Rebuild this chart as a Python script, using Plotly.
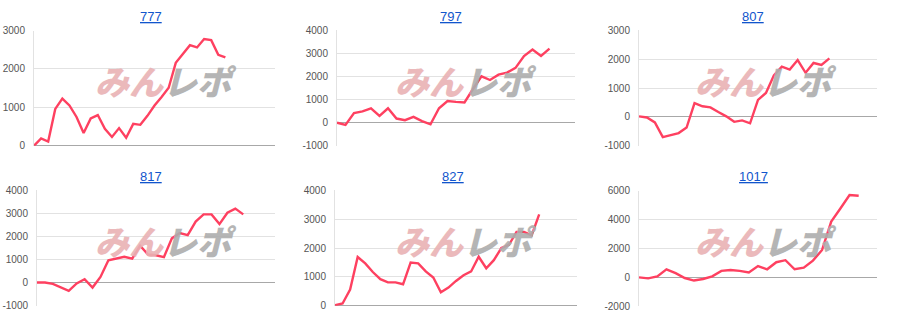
import plotly.graph_objects as go

titles = ["777", "797", "807", "817", "827", "1017"]

v777 = [0, 190, 110, 960, 1230, 1050, 750, 330, 710, 800, 440, 230, 460, 210,
        570, 545, 780, 1050, 1270, 1510, 2160, 2390, 2620, 2560, 2780, 2750, 2370, 2300]
v797 = [0, -100, 420, 490, 625, 290, 625, 180, 110, 250, 70, -70, 625, 940,
        900, 875, 1460, 2010, 1850, 2080, 2170, 2375, 2890, 3170, 2890, 3210]
v807 = [20, -20, -190, -700, -630, -560, -370, 480, 370, 330, 170, 20, -170,
        -120, -220, 590, 830, 1440, 1740, 1640, 1970, 1530, 1870, 1800, 2030]
v817 = [10, 10, -50, -190, -350, -30, 150, -210, 250, 970, 1040, 1125, 1040,
        1600, 1220, 1190, 1110, 1920, 2150, 2060, 2650, 2960, 2960, 2540, 3030, 3210, 2960]
v827 = [20, 80, 560, 1690, 1470, 1170, 920, 810, 810, 745, 1500, 1470, 1190,
        980, 470, 630, 860, 1060, 1190, 1700, 1300, 1580, 2000, 2110, 2560, 2560, 2440, 3170]
v1017 = [0, -70, 70, 560, 290, -45, -220, -110, 70, 450, 510, 450, 335, 780,
         560, 1050, 1190, 560, 670, 1160, 1900, 3870, 4770, 5710, 5660]

series = [v777, v797, v807, v817, v827, v1017]
x_slots = [34, 28, 30, 30, 32, 26]
y_ranges = [(0, 3000), (-1000, 4000), (-1000, 3000), (-1000, 4000), (0, 4000), (-2000, 6000)]
y_dticks = [1000, 1000, 1000, 1000, 1000, 2000]

W, H = 900, 332
# plot-area pixel boxes (left, right, top, bottom)
boxes = [(34, 275, 25.5, 145), (337, 575, 25.3, 145), (639, 877, 25.3, 145),
         (37, 275, 191.3, 311), (335, 577, 191.3, 311), (639, 877, 191.7, 311.5)]
cells = [(0, 0), (300, 0), (600, 0), (0, 166), (300, 166), (600, 166)]

LINE = "#fe4060"
GRID = "#e2e2e2"
ZERO = "#a8a8a8"
FONT = "Arial, Liberation Sans, sans-serif"

fig = go.Figure()
annotations = []
for i, (vals, t) in enumerate(zip(series, titles)):
    k = "" if i == 0 else str(i + 1)
    xs = list(range(len(vals)))
    fig.add_trace(go.Scatter(x=xs, y=vals, mode="lines",
                             line=dict(color=LINE, width=2.4),
                             xaxis="x" + k, yaxis="y" + k,
                             showlegend=False, hoverinfo="skip"))
    l, r, tp, b = boxes[i]
    lo, hi = y_ranges[i]
    tv = list(range(lo, hi + 1, y_dticks[i]))
    fig.layout["xaxis" + k] = dict(domain=[l / W, r / W], range=[0, x_slots[i]],
                                   showgrid=False, zeroline=False, showticklabels=False,
                                   showline=False, anchor="y" + k, fixedrange=True)
    fig.layout["yaxis" + k] = dict(domain=[1 - b / H, 1 - tp / H], range=[lo, hi],
                                   tickvals=tv, ticktext=[str(v) for v in tv],
                                   showgrid=True, gridcolor=GRID, gridwidth=1,
                                   zeroline=True, zerolinecolor=ZERO, zerolinewidth=1,
                                   showline=True, linecolor=GRID, linewidth=1,
                                   ticks="outside", ticklen=6, tickcolor="rgba(0,0,0,0)",
                                   tickfont=dict(family=FONT, size=10, color="#555555"),
                                   anchor="x" + k, fixedrange=True)
    cx, cy = cells[i]
    title_x = [151, 451, 753, 151, 453, 753][i]
    annotations.append(dict(text=t, x=title_x / W, y=1 - (cy + 11) / H,
                            xref="paper", yref="paper", showarrow=False,
                            xanchor="center", yanchor="middle",
                            font=dict(family=FONT, size=13, color="#1155cc",
                                      lineposition="under")))
    annotations.append(dict(
        text="<span style='color:#e9b2b4'>みん</span><span style='color:#adadad'>レポ</span>",
        x=(cx + 166) / W, y=1 - (cy + 77) / H, xref="paper", yref="paper",
        showarrow=False, xanchor="center", yanchor="middle", opacity=0.9,
        font=dict(family="Noto Sans CJK JP", size=34, weight=900, style="italic")))

fig.update_layout(width=W, height=H, margin=dict(l=0, r=0, t=0, b=0),
                  paper_bgcolor="white", plot_bgcolor="white",
                  annotations=annotations, showlegend=False)
fig.write_html("out.html")
